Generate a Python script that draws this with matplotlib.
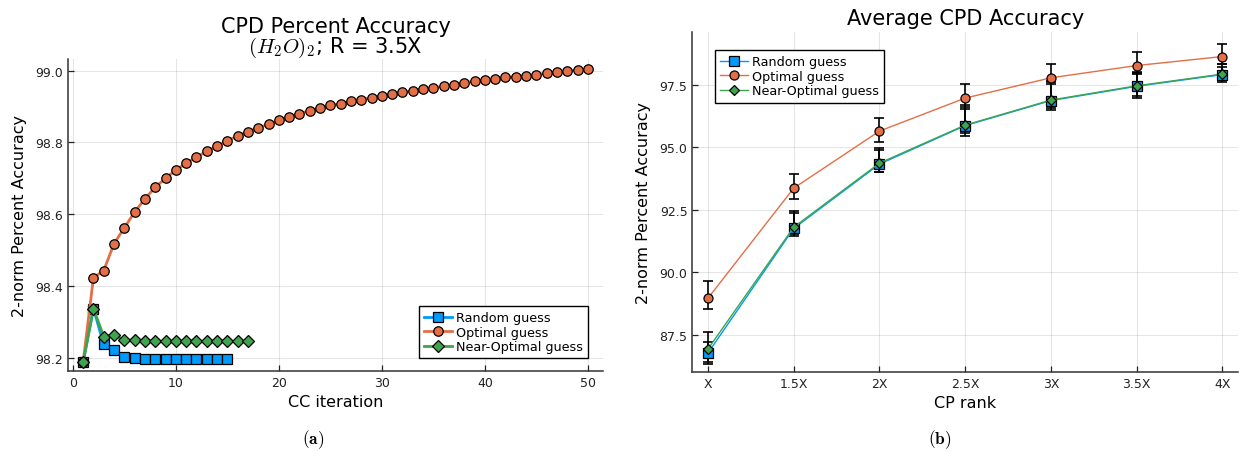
import matplotlib
matplotlib.use("Agg")
import matplotlib.pyplot as plt
import numpy as np

# ---------------- data: left panel ----------------
random_iter = list(range(1, 16))
random_acc = [98.188, 98.337, 98.237, 98.221, 98.203, 98.200, 98.197, 98.197,
              98.197, 98.197, 98.197, 98.197, 98.197, 98.197, 98.197]
optimal_iter = list(range(1, 51))
optimal_acc = [98.188, 98.423, 98.443, 98.518, 98.562, 98.606, 98.643, 98.675, 98.700, 98.723,
               98.742, 98.759, 98.775, 98.790, 98.804, 98.818, 98.830, 98.841, 98.850, 98.861,
               98.872, 98.880, 98.888, 98.896, 98.903, 98.908, 98.914, 98.919, 98.925, 98.929,
               98.935, 98.939, 98.944, 98.949, 98.952, 98.956, 98.961, 98.965, 98.971, 98.974,
               98.977, 98.981, 98.983, 98.986, 98.989, 98.992, 98.996, 98.999, 99.002, 99.005]
near_iter = list(range(1, 18))
near_acc = [98.188, 98.337, 98.259, 98.263, 98.249, 98.248, 98.246, 98.246, 98.246,
            98.246, 98.246, 98.246, 98.246, 98.246, 98.246, 98.246, 98.246]

# ---------------- data: right panel ----------------
ranks = ["X", "1.5X", "2X", "2.5X", "3X", "3.5X", "4X"]
random_mean = [86.77, 91.75, 94.32, 95.86, 96.86, 97.43, 97.90]
random_lo = [86.42, 91.44, 94.02, 95.46, 96.49, 96.96, 97.59]
random_hi = [87.23, 92.38, 94.90, 96.59, 97.59, 97.92, 98.21]
optimal_mean = [88.96, 93.36, 95.64, 96.96, 97.77, 98.26, 98.62]
optimal_lo = [88.55, 92.93, 95.19, 96.51, 97.53, 97.95, 98.33]
optimal_hi = [89.65, 93.91, 96.18, 97.54, 98.33, 98.81, 99.12]
near_mean = [86.93, 91.80, 94.36, 95.88, 96.88, 97.45, 97.92]
near_lo = [86.32, 91.52, 93.99, 95.55, 96.58, 97.04, 97.67]
near_hi = [87.62, 92.45, 94.96, 96.67, 97.66, 97.99, 98.32]

BLUE = "#009AFA"
ORANGE = "#E36F47"
GREEN = "#3EA44E"

plt.rcParams["font.family"] = ["DejaVu Sans"]
plt.rcParams["mathtext.fontset"] = "cm"

fig = plt.figure(figsize=(12.41, 4.52), dpi=100)
axL = fig.add_axes([0.0548, 0.177, 0.4311, 0.690])
axR = fig.add_axes([0.558, 0.175, 0.4395, 0.752])


def style(ax):
    for s in ("top", "right"):
        ax.spines[s].set_visible(False)
    for s in ("left", "bottom"):
        ax.spines[s].set_color("#333333")
        ax.spines[s].set_linewidth(1.1)
    ax.grid(True, color="black", alpha=0.1, linewidth=0.8)
    ax.set_axisbelow(True)
    ax.tick_params(direction="in", length=4, width=0.9, labelsize=9, colors="#222222")


# ---------- left ----------
style(axL)
axL.plot(random_iter, random_acc, color=BLUE, lw=2, marker="s", ms=7.3,
         mec="black", mew=0.9, label="Random guess")
axL.plot(optimal_iter, optimal_acc, color=ORANGE, lw=2, marker="o", ms=6.8,
         mec="black", mew=0.9, label="Optimal guess")
axL.plot(near_iter, near_acc, color=GREEN, lw=2, marker="D", ms=5.8,
         mec="black", mew=0.9, label="Near-Optimal guess")
axL.set_xlim(-0.47, 51.47)
axL.set_ylim(98.163, 99.032)
axL.set_xticks([0, 10, 20, 30, 40, 50])
axL.set_yticks([98.2, 98.4, 98.6, 98.8, 99.0])
axL.set_yticklabels(["98.2", "98.4", "98.6", "98.8", "99.0"])
axL.set_xlabel("CC iteration", fontsize=11.5, labelpad=4)
axL.set_ylabel("2-norm Percent Accuracy", fontsize=11.5, labelpad=6)
axL.set_title("CPD Percent Accuracy\n" + r"$(H_2O)_2$; R = 3.5X", fontsize=15, pad=4,
              linespacing=0.95)
legL = axL.legend(loc="lower right", bbox_to_anchor=(0.984, 0.02), fontsize=9.2,
                  frameon=True, fancybox=False, edgecolor="black", framealpha=1,
                  borderpad=0.4, handlelength=2.2, handletextpad=0.3, labelspacing=0.12)
legL.get_frame().set_linewidth(1.0)

# ---------- right ----------
style(axR)
xs = np.arange(len(ranks))
series = [
    (random_mean, random_lo, random_hi, BLUE, "s", 6.8, "Random guess"),
    (optimal_mean, optimal_lo, optimal_hi, ORANGE, "o", 6.5, "Optimal guess"),
    (near_mean, near_lo, near_hi, GREEN, "D", 5.5, "Near-Optimal guess"),
]
for mean, lo, hi, col, mk, ms, lab in series:
    mean = np.array(mean)
    yerr = np.vstack([mean - np.array(lo), np.array(hi) - mean])
    axR.errorbar(xs, mean, yerr=yerr, fmt="none", ecolor="black", elinewidth=1.2,
                 capsize=3.6, capthick=1.2, zorder=2)
    axR.plot(xs, mean, color=col, lw=1.0, marker=mk, ms=ms, mec="black", mew=0.9,
             label=lab, zorder=3)
axR.set_xlim(-0.18, 6.18)
axR.set_ylim(86.02, 99.6)
axR.set_xticks(xs)
axR.set_xticklabels(ranks)
axR.set_yticks([87.5, 90.0, 92.5, 95.0, 97.5])
axR.set_yticklabels(["87.5", "90.0", "92.5", "95.0", "97.5"])
axR.set_xlabel("CP rank", fontsize=11.5, labelpad=4)
axR.set_ylabel("2-norm Percent Accuracy", fontsize=11.5, labelpad=6)
axR.set_title("Average CPD Accuracy", fontsize=15, pad=6)
legR = axR.legend(loc="upper left", bbox_to_anchor=(0.03, 0.965), fontsize=9.2,
                  frameon=True, fancybox=False, edgecolor="black", framealpha=1,
                  borderpad=0.4, handlelength=2.2, handletextpad=0.3, labelspacing=0.12)
legR.get_frame().set_linewidth(1.0)

fig.text(0.252, 0.027, r"$\mathbf{(a)}$", ha="center", va="center", fontsize=12.5)
fig.text(0.757, 0.027, r"$\mathbf{(b)}$", ha="center", va="center", fontsize=12.5)

fig.savefig("out.png", dpi=100)
